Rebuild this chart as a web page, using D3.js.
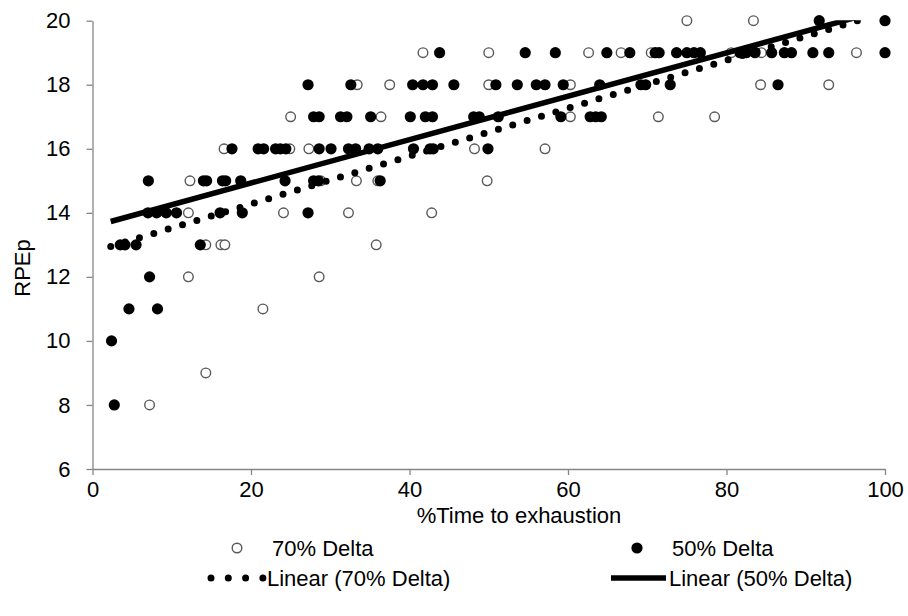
<!DOCTYPE html>
<html><head><meta charset="utf-8">
<script src="https://cdn.jsdelivr.net/npm/d3@7/dist/d3.min.js"></script>
<style>
body{margin:0;background:#fff}
svg{display:block}
text{font-family:"Liberation Sans",Arial,sans-serif;fill:#000}
</style>
</head><body>
<svg id="chart" width="908" height="616"></svg>
<script>
// ---- data ----
const xTicks = [0, 20, 40, 60, 80, 100];
const yTicks = [6, 8, 10, 12, 14, 16, 18, 20];
const xTitle = "%Time to exhaustion";
const yTitle = "RPEp";
const seriesNames = ["70% Delta", "50% Delta"];
const trendNames = ["Linear (70% Delta)", "Linear (50% Delta)"];

// 70% Delta (open circles)
const d70X = [7.2, 14.3, 21.5, 12.1, 28.6, 14.3, 16.2, 16.7, 35.8, 12.1, 24.1, 32.3, 42.8,
  12.3, 28.8, 33.3, 36.0, 49.8, 16.6, 24.9, 27.3, 48.2, 57.1, 25.0, 36.4, 60.3, 71.4, 78.5,
  33.4, 37.5, 50.0, 60.3, 84.3, 92.9, 41.7, 50.0, 62.6, 66.7, 70.5, 80.6, 84.4, 96.4, 75.0, 83.4];
const d70Y = [8, 9, 11, 12, 12, 13, 13, 13, 13, 14, 14, 14, 14,
  15, 15, 15, 15, 15, 16, 16, 16, 16, 16, 17, 17, 17, 17, 17,
  18, 18, 18, 18, 18, 18, 19, 19, 19, 19, 19, 19, 19, 19, 20, 20];

// 50% Delta (filled circles)
const d50X = [2.75, 2.4, 4.6, 8.2, 7.2, 3.5, 4.1, 5.5, 13.6,
  7.0, 8.1, 9.3, 10.6, 16.1, 18.9, 27.2,
  7.05, 14.0, 14.4, 16.4, 16.8, 18.7, 24.3, 27.9, 28.5, 36.3,
  17.6, 20.9, 21.6, 23.1, 23.7, 24.4, 28.6, 30.1, 32.3, 33.2, 34.9, 36.0, 40.5, 42.6, 43.0, 49.9,
  27.9, 28.6, 31.3, 32.1, 35.1, 40.1, 42.0, 42.9, 48.1, 48.8, 51.2, 59.1, 62.8, 63.5, 64.2,
  27.2, 32.6, 40.4, 41.7, 42.9, 45.6, 50.9, 53.6, 56.0, 57.1, 59.4, 64.0, 69.2, 69.8, 72.9, 86.5,
  43.8, 54.6, 58.4, 64.9, 67.8, 71.0, 71.5, 73.7, 75.0, 75.9, 76.7, 81.7, 82.5, 83.6, 85.7, 87.3, 88.2, 90.9, 92.9, 100,
  91.7, 100];
const d50Y = [8, 10, 11, 11, 12, 13, 13, 13, 13,
  14, 14, 14, 14, 14, 14, 14,
  15, 15, 15, 15, 15, 15, 15, 15, 15, 15,
  16, 16, 16, 16, 16, 16, 16, 16, 16, 16, 16, 16, 16, 16, 16, 16,
  17, 17, 17, 17, 17, 17, 17, 17, 17, 17, 17, 17, 17, 17, 17,
  18, 18, 18, 18, 18, 18, 18, 18, 18, 18, 18, 18, 18, 18, 18, 18,
  19, 19, 19, 19, 19, 19, 19, 19, 19, 19, 19, 19, 19, 19, 19, 19, 19, 19, 19, 19,
  20, 20];

// linear trendline end points
const trend70X = [2.3, 100];
const trend70Y = [12.95, 20.26];
const trend50X = [2.3, 100];
const trend50Y = [13.73, 20.35];

// ---- drawing ----
const svg = d3.select("#chart");
const x = d3.scaleLinear().domain([0, 100]).range([92.5, 885]);
const y = d3.scaleLinear().domain([6, 20]).range([469, 20.7]);
const FS = 22;

svg.append("rect").attr("width", 908).attr("height", 616).attr("fill", "#fff");

svg.append("defs").append("clipPath").attr("id", "plotclip")
  .append("rect").attr("x", x(0)).attr("y", y(20) - 0.5)
  .attr("width", x(100) - x(0)).attr("height", y(6) - y(20) + 0.5);

// axes
const yAxis = svg.append("g").attr("transform", `translate(${x(0)},0)`)
  .call(d3.axisLeft(y).tickValues(yTicks).tickSize(6).tickPadding(16).tickSizeOuter(0));
const xAxis = svg.append("g").attr("transform", `translate(0,${y(6)})`)
  .call(d3.axisBottom(x).tickValues(xTicks).tickSize(6).tickPadding(6).tickSizeOuter(0));
[yAxis, xAxis].forEach(g => {
  g.select(".domain").attr("stroke", "#868686").attr("stroke-width", 1.3);
  g.selectAll(".tick line").attr("stroke", "#868686").attr("stroke-width", 1.3);
  g.selectAll(".tick text").attr("font-size", FS).attr("font-family", "Liberation Sans, Arial, sans-serif").attr("fill", "#000");
});

// axis titles
svg.append("text").attr("x", 519).attr("y", 515).attr("dy", "0.35em").attr("text-anchor", "middle")
  .attr("font-size", FS).text(xTitle);
svg.append("text").attr("transform", `translate(30,${268}) rotate(-90)`)
  .attr("text-anchor", "middle").attr("font-size", FS).text(yTitle);

// points
const pts70 = d70X.map((v, i) => [v, d70Y[i]]);
const pts50 = d50X.map((v, i) => [v, d50Y[i]]);
svg.append("g").selectAll("circle").data(pts70).join("circle")
  .attr("cx", d => x(d[0])).attr("cy", d => y(d[1])).attr("r", 4.8)
  .attr("fill", "#fff").attr("stroke", "#595959").attr("stroke-width", 1.4);
svg.append("g").selectAll("circle").data(pts50).join("circle")
  .attr("cx", d => x(d[0])).attr("cy", d => y(d[1])).attr("r", 5.6)
  .attr("fill", "#000");

// trendlines
const line = d3.line().x(d => x(d[0])).y(d => y(d[1]));
const tg = svg.append("g").attr("clip-path", "url(#plotclip)");
tg.append("path").datum(trend70X.map((v, i) => [v, trend70Y[i]]))
  .attr("d", line).attr("fill", "none").attr("stroke", "#000")
  .attr("stroke-width", 7).attr("stroke-linecap", "round").attr("stroke-dasharray", "0 15");
tg.append("path").datum(trend50X.map((v, i) => [v, trend50Y[i]]))
  .attr("d", line).attr("fill", "none").attr("stroke", "#000")
  .attr("stroke-width", 5.5);

// legend
const lg = svg.append("g");
const row1 = 548, row2 = 578;
lg.append("circle").attr("cx", 237).attr("cy", row1).attr("r", 4.8)
  .attr("fill", "#fff").attr("stroke", "#595959").attr("stroke-width", 1.4);
lg.append("text").attr("x", 272).attr("y", row1).attr("dy", "0.35em").attr("font-size", FS).text(seriesNames[0]);
lg.append("circle").attr("cx", 637).attr("cy", row1).attr("r", 5.6).attr("fill", "#000");
lg.append("text").attr("x", 672).attr("y", row1).attr("dy", "0.35em").attr("font-size", FS).text(seriesNames[1]);
lg.append("line").attr("x1", 211).attr("x2", 263).attr("y1", row2).attr("y2", row2)
  .attr("stroke", "#000").attr("stroke-width", 7).attr("stroke-linecap", "round").attr("stroke-dasharray", "0 17.3");
lg.append("text").attr("x", 267).attr("y", row2).attr("dy", "0.35em").attr("font-size", FS).text(trendNames[0]);
lg.append("line").attr("x1", 611).attr("x2", 666).attr("y1", row2).attr("y2", row2)
  .attr("stroke", "#000").attr("stroke-width", 5.5);
lg.append("text").attr("x", 669).attr("y", row2).attr("dy", "0.35em").attr("font-size", FS).text(trendNames[1]);
</script>
</body></html>
